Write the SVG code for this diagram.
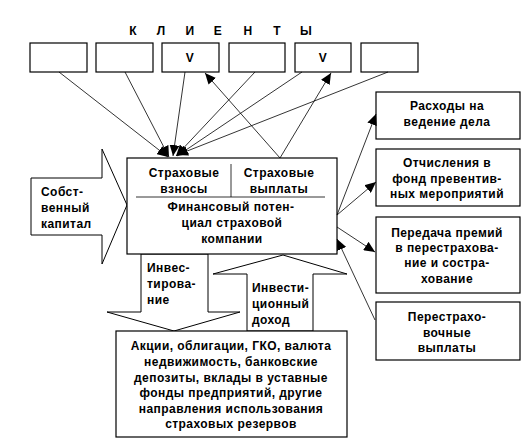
<svg xmlns="http://www.w3.org/2000/svg" width="531" height="448" viewBox="0 0 531 448">
<defs>
<marker id="ah" markerUnits="userSpaceOnUse" markerWidth="12" markerHeight="10" refX="11" refY="5" orient="auto">
<path d="M0,0 L11,5 L0,10 Z" fill="#000"/>
</marker>
<style>
.bx{fill:#fff;stroke:#000;stroke-width:1.2}
.ba{fill:#fff;stroke:#000;stroke-width:1}
.ln{fill:none;stroke:#000;stroke-width:0.8}
.ar{fill:none;stroke:#000;stroke-width:0.8;marker-end:url(#ah)}
text{font-family:"Liberation Sans",Arial,sans-serif;font-size:12px;font-weight:bold;fill:#000;letter-spacing:0.45px}
.c{text-anchor:middle}
.t{font-weight:bold;font-size:12px;letter-spacing:0.3px}
</style>
</defs>
<rect width="531" height="448" fill="#fff"/>

<g id="title">
<text x="133" y="35" class="c t">К</text>
<text x="161" y="35" class="c t">Л</text>
<text x="190" y="35" class="c t">И</text>
<text x="218" y="35" class="c t">Е</text>
<text x="248" y="35" class="c t">Н</text>
<text x="277" y="35" class="c t">Т</text>
<text x="306" y="35" class="c t">Ы</text>
</g>

<g id="client1"><rect class="bx" x="30" y="43" width="57" height="29"/></g>
<g id="client2"><rect class="bx" x="96" y="43" width="57" height="29"/></g>
<g id="client3"><rect class="bx" x="162" y="43" width="57" height="29"/><text x="190" y="62" class="c">V</text></g>
<g id="client4"><rect class="bx" x="229" y="43" width="56" height="29"/></g>
<g id="client5"><rect class="bx" x="295" y="43" width="56" height="29"/><text x="323" y="62" class="c">V</text></g>
<g id="client6"><rect class="bx" x="361" y="43" width="57" height="29"/></g>

<g id="own-capital">
<polygon class="ba" points="31,178 102,178 102,149 127,205 102,264 102,235 31,235"/>
<text x="41" y="196">Собст-</text>
<text x="41" y="212">венный</text>
<text x="41" y="228">капитал</text>
</g>

<g id="investing">
<polygon class="ba" points="141,254 208,254 208,312 240,312 174,331 107,312 141,312"/>
<text x="147" y="272">Инвес-</text>
<text x="147" y="288">тирова-</text>
<text x="147" y="304">ние</text>
</g>

<g id="investment-income">
<polygon class="ba" points="247,331 247,274 213,274 283,255 347,274 313,274 313,331"/>
<text x="252" y="292">Инвести-</text>
<text x="252" y="308">ционный</text>
<text x="252" y="324">доход</text>
</g>

<g id="center">
<rect class="bx" x="127" y="158" width="210" height="96"/>
<line class="ln" x1="231" y1="164" x2="231" y2="197"/>
<line class="ln" x1="136" y1="197" x2="325" y2="197"/>
<text x="184" y="177" class="c">Страховые</text>
<text x="184" y="193" class="c">взносы</text>
<text x="279" y="177" class="c">Страховые</text>
<text x="279" y="193" class="c">выплаты</text>
<text x="231" y="211" class="c">Финансовый потен-</text>
<text x="232" y="227" class="c">циал страховой</text>
<text x="232" y="243" class="c">компании</text>
</g>

<g id="assets">
<rect class="bx" x="116" y="331" width="231" height="106"/>
<text x="231" y="350" class="c">Акции, облигации, ГКО, валюта</text>
<text x="231" y="366" class="c">недвижимость, банковские</text>
<text x="231" y="382" class="c">депозиты, вклады в уставные</text>
<text x="231" y="397" class="c">фонды предприятий, другие</text>
<text x="231" y="413" class="c">направления использования</text>
<text x="231" y="428" class="c">страховых резервов</text>
</g>

<g id="expenses">
<rect class="bx" x="376" y="92" width="144" height="47"/>
<text x="447" y="110" class="c">Расходы на</text>
<text x="447" y="126" class="c">ведение дела</text>
</g>
<g id="prevention">
<rect class="bx" x="376" y="149" width="144" height="57"/>
<text x="447" y="167" class="c">Отчисления в</text>
<text x="447" y="183" class="c">фонд превентив-</text>
<text x="447" y="198" class="c">ных мероприятий</text>
</g>
<g id="reinsurance-premiums">
<rect class="bx" x="376" y="217" width="144" height="76"/>
<text x="447" y="237" class="c">Передача премий</text>
<text x="447" y="252" class="c">в перестрахова-</text>
<text x="447" y="267" class="c">ние и состра-</text>
<text x="447" y="283" class="c">хование</text>
</g>
<g id="reinsurance-payouts">
<rect class="bx" x="376" y="302" width="144" height="58"/>
<text x="447" y="321" class="c">Перестрахо-</text>
<text x="447" y="337" class="c">вочные</text>
<text x="447" y="352" class="c">выплаты</text>
</g>

<g id="connectors">
<line class="ar" x1="59" y1="72" x2="168" y2="157"/>
<line class="ar" x1="125" y1="72" x2="169" y2="157"/>
<line class="ar" x1="185" y1="72" x2="173" y2="156"/>
<line class="ar" x1="255" y1="72" x2="176" y2="156"/>
<line class="ar" x1="302" y1="72" x2="177" y2="156"/>
<line class="ar" x1="388" y1="72" x2="177" y2="155"/>
<line class="ar" x1="280" y1="158" x2="205" y2="73"/>
<line class="ar" x1="280" y1="158" x2="331" y2="73"/>
<line class="ar" x1="337" y1="215" x2="376" y2="114"/>
<line class="ar" x1="337" y1="215" x2="376" y2="182"/>
<line class="ar" x1="337" y1="227" x2="375" y2="252"/>
<line class="ar" x1="375" y1="320" x2="337" y2="239"/>
</g>
</svg>
